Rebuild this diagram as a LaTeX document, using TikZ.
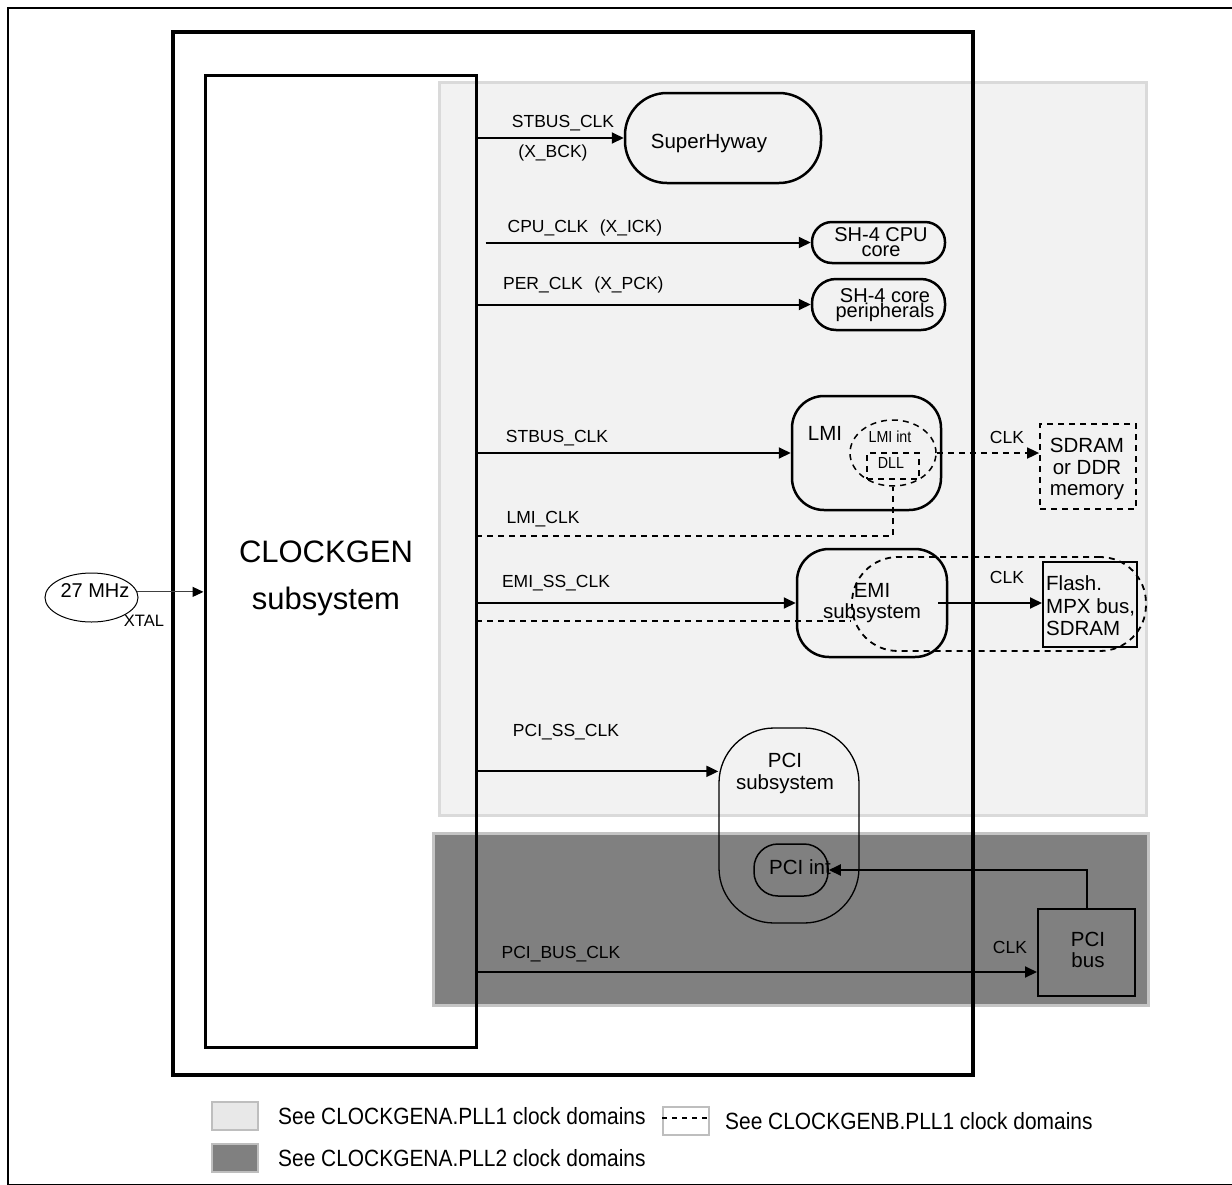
\documentclass[tikz,border=0pt]{standalone}
\usepackage{fontspec}
\setmainfont{Liberation Sans}
\newfontfamily\narrowsf[FakeStretch=0.89]{Liberation Sans}
\usetikzlibrary{arrows.meta,shapes.geometric,calc}
\definecolor{lightfill}{HTML}{F2F2F2}
\definecolor{lightedge}{HTML}{DADADA}
\definecolor{darkfill}{HTML}{808080}
\definecolor{darkedge}{HTML}{C4C4C4}
\definecolor{legfill}{HTML}{E8E8E8}
\definecolor{legedge}{HTML}{BEBEBE}
\tikzset{
  arr/.style={line width=2pt,-{Triangle[length=12pt,width=11pt]}},
  dsh/.style={line width=1.8pt,dash pattern=on 6pt off 5pt},
  lbl/.style={inner sep=0pt,font=\fontsize{17.5}{20}\selectfont},
  txt/.style={inner sep=0pt,align=center},
  rbox/.style={draw,line width=2.5pt,inner sep=0pt},
  legtxt/.style={anchor=west,inner sep=0pt,font=\narrowsf\fontsize{23.5}{26}\selectfont},
}
\begin{document}
\begin{tikzpicture}[x=1pt,y=-1pt]
\useasboundingbox (0,0) rectangle (1232,1184);
\fill[white] (0,0) rectangle (1232,1184);
% outer frame
\draw[line width=2pt] (1240,8) -- (8,8) -- (8,1185) -- (1240,1185);
% clock domain regions
\draw[fill=lightfill,draw=lightedge,line width=3pt] (439,82) rectangle (1146,815);
\draw[fill=darkfill,draw=darkedge,line width=3pt] (433,833) rectangle (1148,1005);
% EMI dashed domain
\node[draw,dsh,rounded corners=46pt,minimum width=294,minimum height=94,inner sep=0pt] (emidom) at (999,604) {};
% chip and clockgen
\node[draw,line width=4pt,minimum width=800,minimum height=1043,inner sep=0pt] (chip) at (573,553.5) {};
\node[draw,line width=3pt,minimum width=271,minimum height=972,inner sep=0pt] (clockgen) at (340.5,561) {};
\node[txt,font=\fontsize{31}{47}\selectfont] (cgtext) at (326,578) {CLOCKGEN\\subsystem};
% xtal
\node[draw,ellipse,line width=1pt,minimum width=93,minimum height=49,inner sep=0pt] (xtal) at (91.5,597.5) {};
\node[txt,font=\fontsize{20}{22}\selectfont] (xtaltext) at (95,591) {27 MHz};
\node[txt,font=\fontsize{16.5}{18}\selectfont] (xtallbl) at (144,621) {XTAL};
\draw[line width=1.2pt,draw=black!75,-{Triangle[length=11pt,width=10pt,color=black]}] (xtal.7) -- (clockgen.west |- xtal.7);
% SuperHyway
\node[rbox,rounded corners=42pt,minimum width=196,minimum height=90] (superhyway) at (723,138) {};
\node[txt,font=\fontsize{20.5}{22}\selectfont] (shtext) at (709,143) {SuperHyway};
% SH-4 CPU core
\node[rbox,rounded corners=20pt,minimum width=133,minimum height=41] (cpucore) at (878.5,242.5) {};
\node[txt,font=\fontsize{20}{15}\selectfont] (cputext) at (881,242) {SH-4 CPU\\core};
% SH-4 core peripherals
\node[rbox,rounded corners=24pt,minimum width=133,minimum height=51] (percore) at (878.5,304.5) {};
\node[txt,font=\fontsize{20}{15}\selectfont] (pertext) at (885,305) {SH-4 core\\peripherals};
% LMI
\node[rbox,rounded corners=32pt,minimum width=149,minimum height=114] (lmi) at (866.5,453) {};
\node[txt,font=\fontsize{20.5}{22}\selectfont] (lmitext) at (825,433) {LMI};
\node[draw,dsh,line width=1.5pt,ellipse,minimum width=86,minimum height=66,inner sep=0pt] (lmiint) at (893,453) {};
\node[txt,font=\narrowsf\fontsize{16}{18}\selectfont] (lmiinttext) at (890,437) {LMI int};
\node[draw,dsh,line width=1.8pt,minimum width=52,minimum height=26,inner sep=0pt] (dll) at (893,466) {};
\node[txt,font=\narrowsf\fontsize{16}{18}\selectfont] (dlltext) at (891,463) {DLL};
% SDRAM
\node[draw,dsh,minimum width=96,minimum height=85,inner sep=0pt] (sdram) at (1088,466.5) {};
\node[txt,font=\fontsize{20.5}{21.5}\selectfont] (sdramtext) at (1087,469) {SDRAM\\or DDR\\memory};
% EMI
\node[rbox,rounded corners=32pt,minimum width=150,minimum height=108] (emi) at (872,603) {};
\node[txt,font=\fontsize{20.5}{21}\selectfont] (emitext) at (872,603) {EMI\\subsystem};
% Flash
\node[draw,line width=2pt,minimum width=94,minimum height=85,inner sep=0pt] (flash) at (1090,604.5) {};
\node[anchor=west,inner sep=0pt,align=left,font=\fontsize{20.5}{22.5}\selectfont] (flashtext) at (1046,606) {Flash.\\MPX bus,\\SDRAM};
% PCI subsystem
\node[draw,line width=1.3pt,rounded corners=55pt,minimum width=140,minimum height=195,inner sep=0pt] (pcisub) at (789,825.5) {};
\node[txt,font=\fontsize{20.5}{22}\selectfont] (pcisubtext) at (785,773) {PCI\\subsystem};
\node[draw,line width=1.5pt,rounded corners=24pt,minimum width=74,minimum height=52,inner sep=0pt] (pciint) at (791,870) {};
\node[txt,font=\fontsize{20.5}{22}\selectfont] (pciinttext) at (800,867) {PCI int};
% PCI bus
\node[draw,line width=2pt,minimum width=97,minimum height=87,inner sep=0pt] (pcibus) at (1086.5,952.5) {};
\node[txt,font=\fontsize{20.5}{21}\selectfont] (pcibustext) at (1088,950) {PCI\\bus};
% connectors
\draw[arr] (clockgen.east |- superhyway.west) -- (superhyway.west);
\draw[arr] ([xshift=8pt]clockgen.east |- cpucore.west) -- (cpucore.west);
\draw[arr] (clockgen.east |- percore.west) -- (percore.west);
\draw[arr] (clockgen.east |- lmi.west) -- (lmi.west);
\coordinate (lmiclk) at (476,536);
\draw[dsh] (lmiclk) -| (lmiint.south);
\draw[dsh,-{Triangle[length=12pt,width=11pt]}] (lmiint.east) -- (lmiint.east -| sdram.west);
\draw[arr] (clockgen.east |- emi.west) -- (emi.west);
\coordinate (emiclk) at (476,621);
\draw[dsh] (emiclk) -- (emiclk -| emidom.west);
\draw[arr] ([xshift=-10pt]emi.east) -- (emi.east -| flash.west);
\coordinate (pcissin) at ($(pcisub.north west)+(0,44)$);
\draw[arr] (clockgen.east |- pcissin) -- (pcissin);
\draw[arr] (pcibus.north) |- (pciint.east);
\coordinate (pcibusin) at ($(pcibus.south west)+(0,-25)$);
\draw[arr] (clockgen.east |- pcibusin) -- (pcibusin);
% labels
\node[lbl] (l1) at (563,123) {STBUS\_CLK};
\node[lbl] (l1b) at (553,153) {(X\_BCK)};
\node[lbl] (l2) at (548,228) {CPU\_CLK};
\node[lbl] (l2b) at (631,228) {(X\_ICK)};
\node[lbl] (l3) at (543,285) {PER\_CLK};
\node[lbl] (l3b) at (629,285) {(X\_PCK)};
\node[lbl] (l4) at (557,438) {STBUS\_CLK};
\node[lbl] (l5) at (543,519) {LMI\_CLK};
\node[lbl] (l6) at (556,583) {EMI\_SS\_CLK};
\node[lbl] (l7) at (566,732) {PCI\_SS\_CLK};
\node[lbl] (l8) at (561,954) {PCI\_BUS\_CLK};
\node[lbl] (c1) at (1007,437) {CLK};
\node[lbl] (c2) at (1007,577) {CLK};
\node[lbl] (c3) at (1010,947) {CLK};
% legend
\node[draw=legedge,fill=legfill,line width=1.5pt,minimum width=46,minimum height=28,inner sep=0pt] (leg1) at (235,1116) {};
\node[legtxt] (legt1) at (278,1116) {See CLOCKGENA.PLL1 clock domains};
\node[draw=legedge,fill=darkfill,line width=1.5pt,minimum width=46,minimum height=28,inner sep=0pt] (leg2) at (235,1158) {};
\node[legtxt] (legt2) at (278,1158) {See CLOCKGENA.PLL2 clock domains};
\node[draw=legedge,line width=1.2pt,minimum width=46,minimum height=28,inner sep=0pt] (leg3) at (686,1121) {};
\coordinate (leg3a) at ($(leg3.west)+(0,-3)$);
\coordinate (leg3b) at ($(leg3.east)+(0,-3)$);
\draw[line width=1.5pt,dash pattern=on 5pt off 5pt] (leg3a) -- (leg3b);
\node[legtxt] (legt3) at (725,1121) {See CLOCKGENB.PLL1 clock domains};
\end{tikzpicture}
\end{document}
